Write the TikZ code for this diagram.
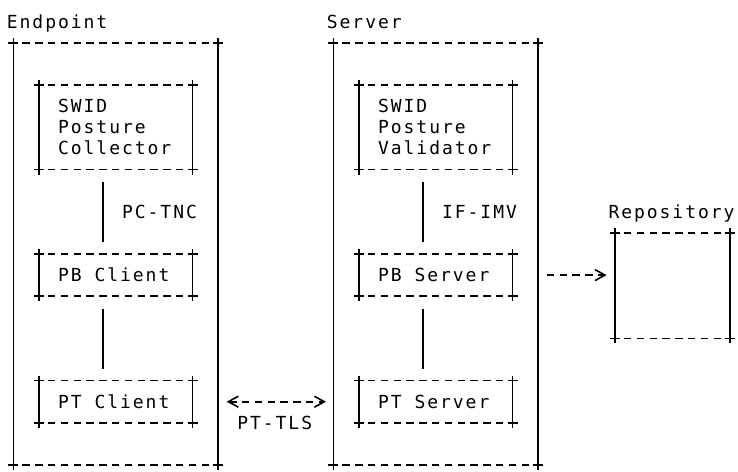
\documentclass[tikz,border=0pt]{standalone}
\usepackage{fontspec}
\usetikzlibrary{arrows.meta}
\newfontfamily\asciifont{DejaVu Sans Mono}[LetterSpace=10.9]
\def\cx#1{(13.3+12.8*(#1))}
\def\ry#1{(-(43+21.1*((#1)-2)))}
\tikzset{
  every node/.style={inner sep=0pt, outer sep=0pt},
  abox/.style={draw=none, rectangle},
  vbar/.style={line width=1.6pt, black},
  hbar/.style={line width=1.6pt, black, dash pattern=on 7.5pt off 5.3pt},
  chev/.tip={Straight Barb[length=10pt,width=11pt,line width=1.6pt]},
  arr/.style={line width=1.6pt, black, dash pattern=on 7.5pt off 5.3pt},
  txt/.style={anchor=base west, font=\asciifont\fontsize{18pt}{21pt}\selectfont, text=black},
}
\newcommand\asciibox[1]{%
  \draw[vbar] (#1.north west) -- (#1.south west);
  \draw[vbar] (#1.north east) -- (#1.south east);
  \draw[hbar] ([xshift=9.05pt]#1.north west) -- ([xshift=-9.05pt]#1.north east);
  \draw[hbar] ([xshift=9.05pt]#1.south west) -- ([xshift=-9.05pt]#1.south east);
  \foreach \a in {north west,north east,south west,south east}{
    \draw[vbar] ([xshift=-5pt]#1.\a) -- ([xshift=5pt]#1.\a)
                ([yshift=-5pt]#1.\a) -- ([yshift=5pt]#1.\a);
  }%
}
\begin{document}
\begin{tikzpicture}[x=1pt,y=1pt]
\fill[white] (0,0) rectangle (738,-471);
\useasboundingbox (0,0) rectangle (738,-471);
% boxes
\node[abox, minimum width=204.8pt, minimum height=422pt] (ep) at ({\cx{8}},{\ry{12}}) {};
\node[abox, minimum width=204.8pt, minimum height=422pt] (sv) at ({\cx{33}},{\ry{12}}) {};
\node[abox, minimum width=153.6pt, minimum height=84.4pt] (coll) at ({\cx{8}},{\ry{6}}) {};
\node[abox, minimum width=153.6pt, minimum height=84.4pt] (val) at ({\cx{33}},{\ry{6}}) {};
\node[abox, minimum width=153.6pt, minimum height=42.2pt] (pbc) at ({\cx{8}},{\ry{13}}) {};
\node[abox, minimum width=153.6pt, minimum height=42.2pt] (pbs) at ({\cx{33}},{\ry{13}}) {};
\node[abox, minimum width=153.6pt, minimum height=42.2pt] (ptc) at ({\cx{8}},{\ry{19}}) {};
\node[abox, minimum width=153.6pt, minimum height=42.2pt] (pts) at ({\cx{33}},{\ry{19}}) {};
\node[abox, minimum width=115.2pt, minimum height=105.5pt] (repo) at ({\cx{51.5}},{\ry{13.5}}) {};
\asciibox{ep}\asciibox{sv}\asciibox{coll}\asciibox{val}
\asciibox{pbc}\asciibox{pbs}\asciibox{ptc}\asciibox{pts}\asciibox{repo}
% texts
\node[txt] (tep) at ({\cx{0}-6.4},{\ry{1}-6.3}) {Endpoint};
\node[txt] (tsv) at ({\cx{25}-6.4},{\ry{1}-6.3}) {Server};
\node[txt] (trepo) at ({\cx{47}-6.4},{\ry{10}-6.3}) {Repository};
\node[txt] (c1) at ({\cx{4}-6.4},{\ry{5}-6.3}) {SWID};
\node[txt] (c2) at ({\cx{4}-6.4},{\ry{6}-6.3}) {Posture};
\node[txt] (c3) at ({\cx{4}-6.4},{\ry{7}-6.3}) {Collector};
\node[txt] (v1) at ({\cx{29}-6.4},{\ry{5}-6.3}) {SWID};
\node[txt] (v2) at ({\cx{29}-6.4},{\ry{6}-6.3}) {Posture};
\node[txt] (v3) at ({\cx{29}-6.4},{\ry{7}-6.3}) {Validator};
\node[txt] (tpbc) at ({\cx{4}-6.4},{\ry{13}-6.3}) {PB Client};
\node[txt] (tpbs) at ({\cx{29}-6.4},{\ry{13}-6.3}) {PB Server};
\node[txt] (tptc) at ({\cx{4}-6.4},{\ry{19}-6.3}) {PT Client};
\node[txt] (tpts) at ({\cx{29}-6.4},{\ry{19}-6.3}) {PT Server};
\node[txt] (lpctnc) at ({\cx{9}-6.4},{\ry{10}-6.3}) {PC-TNC};
\node[txt] (lifimv) at ({\cx{34}-6.4},{\ry{10}-6.3}) {IF-IMV};
\node[txt] (lpttls) at ({\cx{18}-6.4},{\ry{20}-6.3}) {PT-TLS};
% vertical connectors
\draw[vbar, shorten <=12.4pt, shorten >=12pt] ([xshift=-12.8pt]coll.south) -- ([xshift=-12.8pt]pbc.north);
\draw[vbar, shorten <=12.4pt, shorten >=12pt] ([xshift=-12.8pt]pbc.south) -- ([xshift=-12.8pt]ptc.north);
\draw[vbar, shorten <=12.4pt, shorten >=12pt] ([xshift=-12.8pt]val.south) -- ([xshift=-12.8pt]pbs.north);
\draw[vbar, shorten <=12.4pt, shorten >=12pt] ([xshift=-12.8pt]pbs.south) -- ([xshift=-12.8pt]pts.north);
% horizontal connectors
\draw[arr, arrows={chev-chev}, shorten <=8.6pt, shorten >=7.3pt] (ep.east |- ptc.center) -- (sv.west |- pts.center);
\draw[arr, arrows={-chev}, shorten <=8.6pt, shorten >=8.3pt] (sv.east |- pbs.center) -- (repo.west |- pbs.center);
\end{tikzpicture}
\end{document}
